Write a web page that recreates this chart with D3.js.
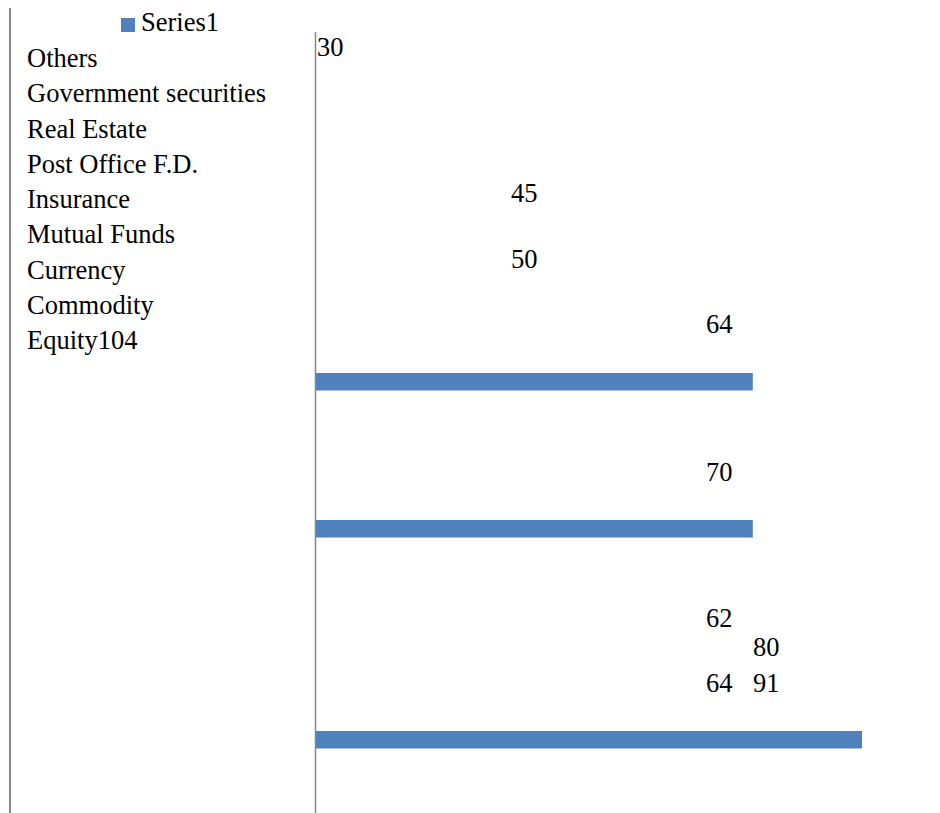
<!DOCTYPE html>
<html>
<head>
<meta charset="utf-8">
<script src="https://cdn.jsdelivr.net/npm/d3@7/dist/d3.min.js"></script>
<style>
  html, body { margin: 0; padding: 0; background: #fff; }
</style>
</head>
<body>
<div id="chart"></div>
<script>
// --- data, as printed in the (garbled) source chart -------------------------

const seriesName = 'Series1';

const categories = [
  'Others', 'Government securities', 'Real Estate', 'Post Office F.D.',
  'Insurance', 'Mutual Funds', 'Currency', 'Commodity', 'Equity'
];
const equityValue = 104;   // printed glued onto the last category name

// data labels, in the order they appear top to bottom
const labelValues = [30, 45, 50, 64, 70, 62, 80, 64, 91];

// the three bars that actually got drawn
const barValues = [64, 64, 80];

// --- layout (reproduces where the broken render put things) ----------------

const W = 940, H = 813;
const BLUE = '#4f81bd', RULE = '#878787';
const FONT = 'Liberation Serif';
const FS = 26.5;

// label slots: column / row index for each data label
const labelCol = [0, 1, 1, 2, 2, 2, 3, 2, 3];
const labelRow = [0, 1, 2, 3, 4, 5, 6, 7, 7];

const svg = d3.select('#chart').append('svg')
  .attr('width', W).attr('height', H)
  .attr('viewBox', `0 0 ${W} ${H}`);

// scales
const x = d3.scaleLinear().domain([0, 80]).range([316, 862]);
const catY = d3.scalePoint().domain(categories).range([67, 67 + 35.25 * 8]);
const barY = d3.scaleOrdinal().domain([0, 1, 2]).range([373, 520, 731]);
const lblX = d3.scaleOrdinal().domain([0, 1, 2, 3]).range([317, 511, 706, 753]);
const lblY = d3.scaleOrdinal().domain(d3.range(8)).range([56, 202, 268, 333, 481, 627, 656, 692]);

const styleText = sel => sel
  .attr('font-family', FONT)
  .attr('font-size', FS)
  .attr('fill', '#000');

// frame rules
svg.append('line')
  .attr('x1', 10).attr('x2', 10).attr('y1', 8).attr('y2', H)
  .attr('stroke', RULE).attr('stroke-width', 2);
svg.append('line')
  .attr('x1', x(0) - 0.5).attr('x2', x(0) - 0.5).attr('y1', 32).attr('y2', H)
  .attr('stroke', RULE).attr('stroke-width', 1.5);

// legend
svg.append('rect')
  .attr('x', 121).attr('y', 18).attr('width', 14).attr('height', 14)
  .attr('fill', BLUE);
svg.append('text')
  .attr('x', 141).attr('y', 31)
  .call(styleText)
  .text(seriesName);

// category names
svg.append('g')
  .selectAll('text')
  .data(categories)
  .join('text')
    .attr('x', 27)
    .attr('y', d => catY(d))
    .call(styleText)
    .text((d, i) => i === categories.length - 1 ? d + equityValue : d);

// bars
svg.append('g')
  .selectAll('rect')
  .data(barValues)
  .join('rect')
    .attr('x', x(0))
    .attr('y', (_, i) => barY(i))
    .attr('width', d => x(d) - x(0))
    .attr('height', 17.5)
    .attr('fill', BLUE);

// data labels
svg.append('g')
  .selectAll('text')
  .data(labelValues)
  .join('text')
    .attr('x', (_, i) => lblX(labelCol[i]))
    .attr('y', (_, i) => lblY(labelRow[i]))
    .call(styleText)
    .text(d => d);
</script>
</body>
</html>
